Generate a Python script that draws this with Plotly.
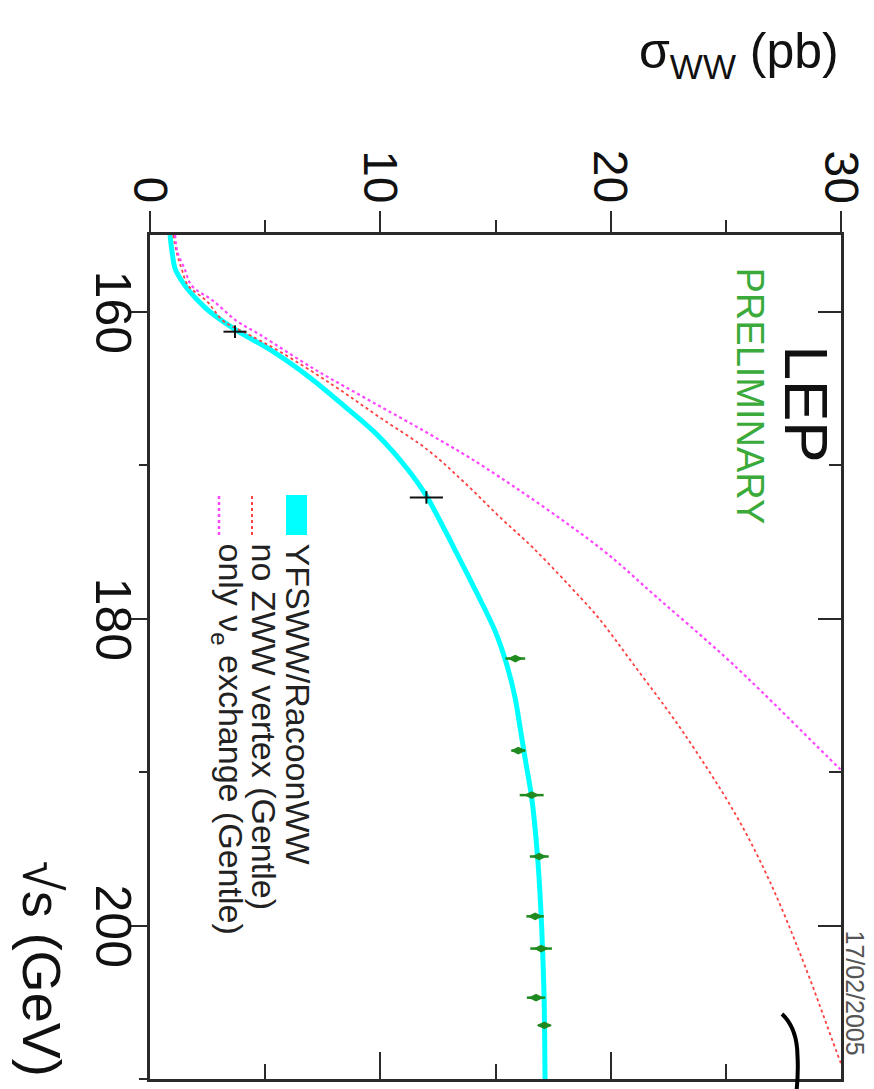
import plotly.graph_objects as go

# ---------------- data ----------------
# theory curves (sqrt(s) in GeV, sigma_WW in pb)
yfsww_sqrts = [155, 156, 157.2, 158.3, 159.3, 160, 161.2, 162.6, 164.3, 166.1, 168, 170.2,
               172, 175.4, 178.6, 180.8, 183.0, 185.15, 187.3, 189.5, 191.65, 196.0, 200.3,
               204.7, 210]
yfsww_sigma = [0.87, 0.95, 1.09, 1.52, 2.1, 2.6, 3.74, 5.35, 6.95, 8.4, 9.85, 11.15,
               12.0, 13.2, 14.28, 14.98, 15.49, 15.85, 16.09, 16.33, 16.57, 16.85, 17.01,
               17.11, 17.15]

nozww_sqrts = [155, 156.1, 157.2, 158.3, 159.3, 160.6, 161.3, 162.6, 164.8, 166.9, 169.0, 171.2,
               173.4, 175.4, 178.6, 180.0, 183.0, 187.3, 192.7, 197.1, 202.5, 209.0, 210.5]
nozww_sigma = [1.01, 1.15, 1.37, 1.66, 2.46, 3.18, 4.05, 5.64, 7.96, 9.99, 12.05, 13.7,
               15.2, 16.64, 18.67, 19.5, 21.0, 23.1, 25.4, 26.9, 28.4, 30.0, 30.4]

nue_sqrts = [155, 156.1, 157.2, 158.3, 159.3, 160.6, 161.5, 163.7, 165.8, 168.0, 170.2,
             175.4, 178.6, 183.0, 189.8, 191.0]
nue_sigma = [1.09, 1.19, 1.5, 1.81, 2.75, 3.76, 4.78, 7.09, 9.55, 12.16, 14.6,
             19.54, 22.0, 25.33, 29.96, 30.8]

# measurements
early_sqrts = [161.3, 172.1]
early_sigma = [3.69, 12.0]
early_err = [0.5, 0.72]

lep2_sqrts = [182.6, 188.6, 191.5, 195.5, 199.4, 201.5, 204.7, 206.5]
lep2_sigma = [15.86, 15.99, 16.57, 16.9, 16.72, 16.98, 16.76, 17.12]
lep2_err = [0.43, 0.3, 0.52, 0.41, 0.38, 0.47, 0.4, 0.27]

X_RANGE = [0, 30]
Y_RANGE = [210, 155]
X_TICKS = [0, 10, 20, 30]
Y_TICKS = [160, 180, 200]
X_TICK_LABELS = ["0", "10", "20", "30"]
Y_TICK_LABELS = ["160", "180", "200"]

legend_labels = ["YFSWW/RacoonWW", "no ZWW vertex (Gentle)", "only ν<sub>e</sub> exchange (Gentle)"]

# ---------------- figure ----------------
FONT = "Liberation Sans, Arial, sans-serif"
FRAME = "#2a2a2a"
CYAN = "#00ffff"
RED = "#ff4040"
MAGENTA = "#ff44ff"
GREEN = "#1f8a1f"

OFF = 8  # page body margin offset
L, T = 150 - OFF, 235 - OFF
PW, PH = 691.0, 844.0
R = 874 - L - PW
B = 1089 - T - PH

fig = go.Figure()

fig.add_trace(go.Scatter(x=yfsww_sigma, y=yfsww_sqrts, mode="lines",
                         line=dict(color=CYAN, width=5, shape="spline", smoothing=0.8),
                         showlegend=False, hoverinfo="skip"))
fig.add_trace(go.Scatter(x=nozww_sigma, y=nozww_sqrts, mode="lines",
                         line=dict(color=RED, width=1.8, dash="3px,3px", shape="spline"),
                         showlegend=False, hoverinfo="skip"))
fig.add_trace(go.Scatter(x=nue_sigma, y=nue_sqrts, mode="lines",
                         line=dict(color=MAGENTA, width=2.2, dash="dot", shape="spline"),
                         showlegend=False, hoverinfo="skip"))

fig.add_trace(go.Scatter(x=early_sigma, y=early_sqrts, mode="markers",
                         marker=dict(symbol="line-ns-open", size=9, color="#111",
                                     line=dict(color="#111", width=2)),
                         error_x=dict(type="data", array=early_err, color="#111",
                                      thickness=2, width=0),
                         showlegend=False, hoverinfo="skip"))
fig.add_trace(go.Scatter(x=lep2_sigma, y=lep2_sqrts, mode="markers",
                         marker=dict(symbol="diamond-wide", size=11, color=GREEN),
                         error_x=dict(type="data", array=lep2_err, color=GREEN,
                                      thickness=2.5, width=0),
                         showlegend=False, hoverinfo="skip"))

# invisible trace to activate the mirrored axes
fig.add_trace(go.Scatter(x=yfsww_sigma, y=yfsww_sqrts, xaxis="x2", yaxis="y2", mode="lines",
                         line=dict(width=0), opacity=0, showlegend=False, hoverinfo="skip"))

fig.update_layout(
    template="none",
    width=874, height=1089,
    margin=dict(l=L, r=R, t=T, b=B, pad=0),
    paper_bgcolor="white", plot_bgcolor="white",
    font=dict(family=FONT, color="#111"),
    showlegend=False,
    xaxis=dict(range=X_RANGE, side="bottom", showgrid=False, zeroline=False,
               showline=True, linecolor=FRAME, linewidth=2.5,
               ticks="inside", tickvals=X_TICKS, ticklen=27, tickwidth=2, tickcolor=FRAME,
               minor=dict(ticks="inside", dtick=5, tick0=0, ticklen=15, tickwidth=2, tickcolor=FRAME),
               showticklabels=False, automargin=False, fixedrange=True),
    xaxis2=dict(range=X_RANGE, overlaying="x", side="top", showgrid=False, zeroline=False,
                showline=True, linecolor=FRAME, linewidth=2.5,
                ticks="outside", tickvals=X_TICKS, ticklen=21, tickwidth=2, tickcolor=FRAME,
                minor=dict(ticks="outside", dtick=5, tick0=0, ticklen=12, tickwidth=2, tickcolor=FRAME),
                showticklabels=False, automargin=False, fixedrange=True),
    yaxis=dict(range=Y_RANGE, side="left", showgrid=False, zeroline=False,
               showline=True, linecolor=FRAME, linewidth=2.5,
               ticks="outside", tickvals=Y_TICKS, ticklen=17, tickwidth=2, tickcolor=FRAME,
               minor=dict(ticks="outside", dtick=10, tick0=150, ticklen=8, tickwidth=2, tickcolor=FRAME),
               showticklabels=False, automargin=False, fixedrange=True),
    yaxis2=dict(range=Y_RANGE, overlaying="y", side="right", showgrid=False, zeroline=False,
                showline=True, linecolor=FRAME, linewidth=2.5,
                ticks="inside", tickvals=Y_TICKS, ticklen=23, tickwidth=2, tickcolor=FRAME,
                minor=dict(ticks="inside", dtick=10, tick0=150, ticklen=12, tickwidth=2, tickcolor=FRAME),
                showticklabels=False, automargin=False, fixedrange=True),
)


def px(xp):
    return (xp - OFF - L) / PW


def py(yp):
    return (T + PH - (yp - OFF)) / PH


ann = []
# rotated tick labels, placed on the axes' own scales
for v, lab in zip(X_TICKS, X_TICK_LABELS):
    ann.append(dict(text=lab, x=v, xref="x", y=py(205), yref="paper",
                    xanchor="center", yanchor="bottom", textangle=90, showarrow=False,
                    font=dict(size=48, family=FONT, color="#111")))
for v, lab in zip(Y_TICKS, Y_TICK_LABELS):
    ann.append(dict(text=lab, y=v, yref="y", x=px(143), xref="paper",
                    xanchor="right", yanchor="middle", textangle=90, showarrow=False,
                    font=dict(size=50, family=FONT, color="#111")))

ann.append(dict(text="σ<sub>WW</sub> (pb)", x=px(841), y=py(55), xref="paper", yref="paper",
                xanchor="right", yanchor="middle", showarrow=False,
                font=dict(size=50, family=FONT, color="#111")))
ann.append(dict(text="√s (GeV)", x=px(42), y=py(1079), xref="paper", yref="paper",
                xanchor="center", yanchor="bottom", textangle=90, showarrow=False,
                font=dict(size=54, family=FONT, color="#111")))
ann.append(dict(text="LEP", x=px(806), y=py(343), xref="paper", yref="paper",
                xanchor="center", yanchor="top", textangle=90, showarrow=False,
                font=dict(size=62, family=FONT, color="#111")))
ann.append(dict(text="PRELIMINARY", x=px(750), y=py(265), xref="paper", yref="paper",
                xanchor="center", yanchor="top", textangle=90, showarrow=False,
                font=dict(size=38, family=FONT, color="#3aaa3a")))
ann.append(dict(text="17/02/2005", x=px(855), y=py(928), xref="paper", yref="paper",
                xanchor="center", yanchor="top", textangle=90, showarrow=False,
                font=dict(size=25, family=FONT, color="#555")))

legend_x = [298, 264, 228]
for lab, lx in zip(legend_labels, legend_x):
    ann.append(dict(text=lab, x=px(lx), y=py(541), xref="paper", yref="paper",
                    xanchor="center", yanchor="top", textangle=90, showarrow=False,
                    font=dict(size=34, family=FONT, color="#222")))
fig.update_layout(annotations=ann)

# hand-drawn stroke near the lower right corner (paper coordinates)
stroke = "M {:.4f},{:.4f} Q {:.4f},{:.4f} {:.4f},{:.4f} Q {:.4f},{:.4f} {:.4f},{:.4f}".format(
    px(782), py(1014), px(797), py(1028), px(797.5), py(1055),
    px(798.5), py(1072), px(796.5), py(1092))

# legend keys
shapes = [
    dict(type="rect", xref="paper", yref="paper", x0=px(286), x1=px(307), y0=py(535), y1=py(495),
         fillcolor=CYAN, line=dict(width=0)),
    dict(type="line", xref="paper", yref="paper", x0=px(252), x1=px(252), y0=py(535), y1=py(495),
         line=dict(color=RED, width=2, dash="3px,3px")),
    dict(type="line", xref="paper", yref="paper", x0=px(219), x1=px(219), y0=py(535), y1=py(495),
         line=dict(color=MAGENTA, width=2.5, dash="dot")),
    dict(type="path", xref="paper", yref="paper", path=stroke,
         line=dict(color="#000", width=4)),
]
fig.update_layout(shapes=shapes)

fig.write_html("out.html")
